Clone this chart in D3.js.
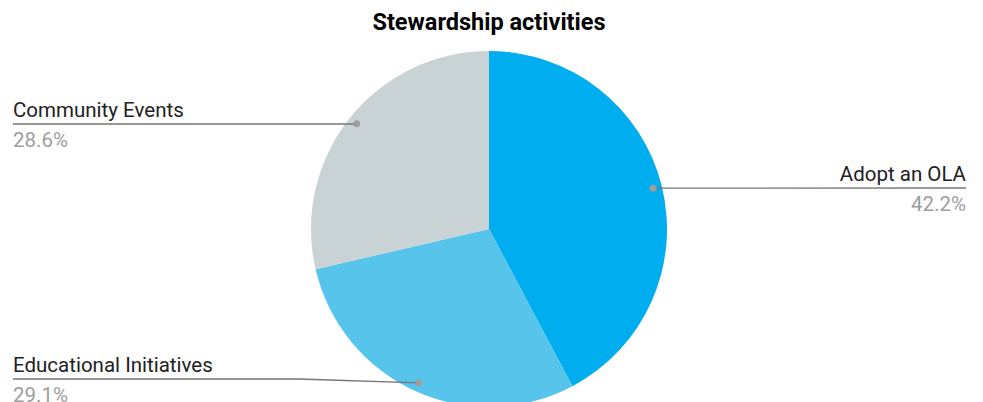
<!DOCTYPE html>
<html>
<head>
<meta charset="utf-8">
<script src="https://cdn.jsdelivr.net/npm/d3@7"></script>
<style>
  body { margin: 0; background: #fff; }
  svg { display: block; font-family: Roboto, "Noto Sans", sans-serif; }
</style>
</head>
<body>
<svg id="chart" width="983" height="402"></svg>
<script>
const categories = ["Adopt an OLA", "Educational Initiatives", "Community Events"];
const values = [42.2, 29.1, 28.6];
const colors = ["#00adef", "#57c4eb", "#c9d2d4"];

// label placement: side and leader line height per slice
const labelSide = ["right", "left", "left"];
const labelLineY = [188, 379, 124];

const width = 983, height = 402;
const cx = 489, cy = 229, radius = 178;
const leftX = 13, rightX = 966;

const svg = d3.select("#chart");

svg.append("text")
  .attr("x", cx)
  .attr("y", 30)
  .attr("text-anchor", "middle")
  .attr("font-size", "23.5px")
  .attr("font-weight", "bold")
  .attr("fill", "#000")
  .text("Stewardship activities");

const data = categories.map((c, i) => ({ name: c, value: values[i], i }));

const pie = d3.pie().sort(null).value(d => d.value);
const arcs = pie(data);
const arc = d3.arc().innerRadius(0).outerRadius(radius);
const dotArc = d3.arc().innerRadius(radius * 0.95).outerRadius(radius * 0.95);

const g = svg.append("g").attr("transform", `translate(${cx},${cy})`);

g.selectAll("path.slice")
  .data(arcs)
  .enter().append("path")
  .attr("class", "slice")
  .attr("d", arc)
  .attr("fill", d => colors[d.data.i]);

// leader lines + labels
arcs.forEach(d => {
  const i = d.data.i;
  const [dx, dy] = dotArc.centroid(d);
  const px = cx + dx, py = cy + dy;
  const ly = labelLineY[i];
  const side = labelSide[i];
  let path;
  if (side === "right") {
    path = Math.abs(py - ly) < 2
      ? `M${px},${py} L${rightX},${ly}`
      : `M${px},${py} L${px + 10},${ly} L${rightX},${ly}`;
  } else {
    const bend = Math.abs(py - ly) > 1.5 ? px - 120 : px;
    path = `M${leftX},${ly} L${bend},${ly} L${px},${py}`;
  }
  svg.append("path")
    .attr("d", path)
    .attr("fill", "none")
    .attr("stroke", "#757575")
    .attr("stroke-width", 1.3);
  svg.append("circle")
    .attr("cx", px).attr("cy", py).attr("r", 3.5)
    .attr("fill", "#9e9e9e");

  const tx = side === "right" ? rightX : leftX;
  const anchor = side === "right" ? "end" : "start";
  svg.append("text")
    .attr("x", tx).attr("y", ly - 7.5)
    .attr("text-anchor", anchor)
    .attr("font-size", "20.5px")
    .attr("fill", "#212121")
    .text(d.data.name);
  svg.append("text")
    .attr("x", tx).attr("y", ly + 23)
    .attr("text-anchor", anchor)
    .attr("font-size", "20.5px")
    .attr("fill", "#9e9e9e")
    .text(d.data.value.toFixed(1) + "%");
});
</script>
</body>
</html>
